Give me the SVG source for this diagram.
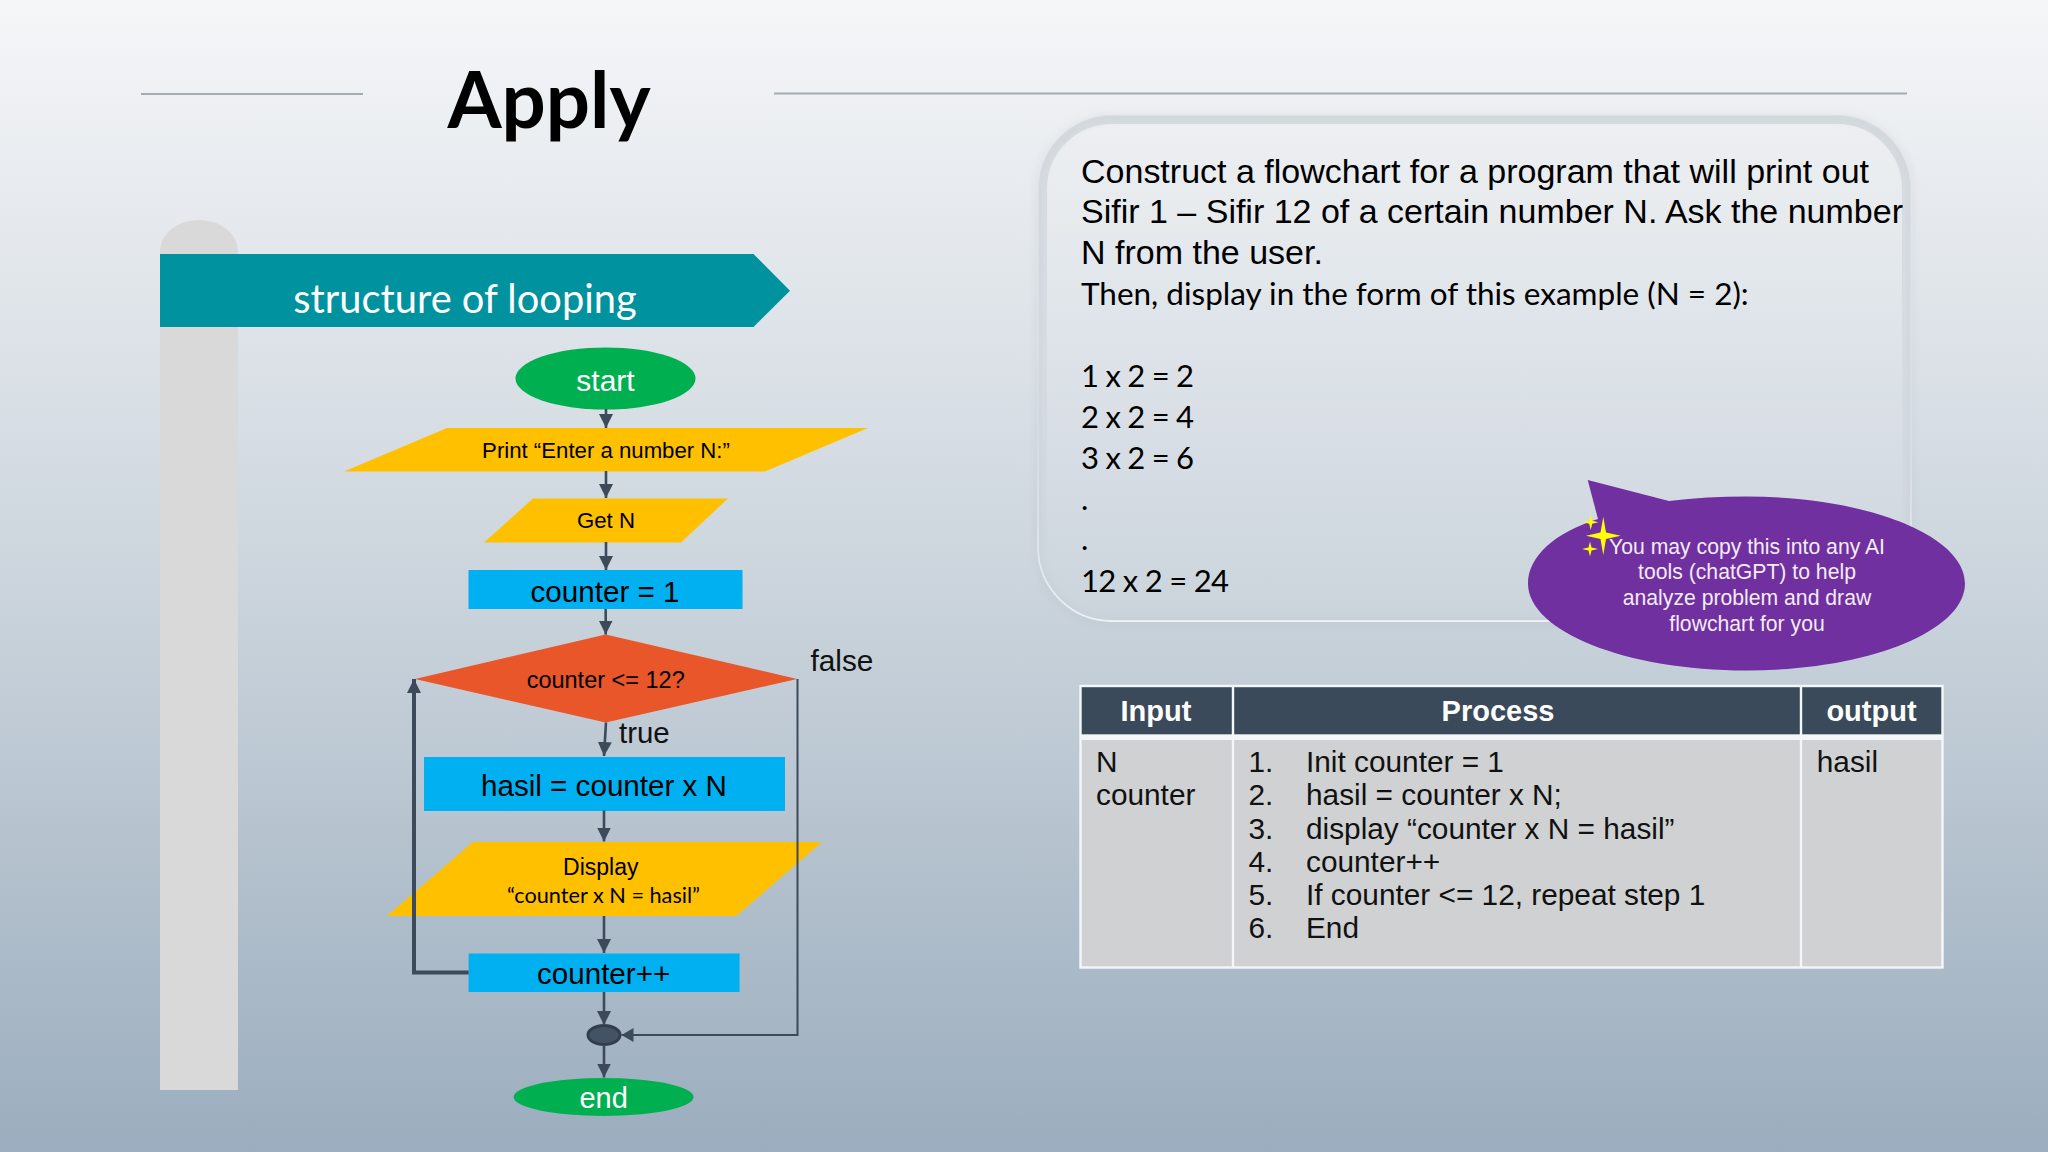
<svg xmlns="http://www.w3.org/2000/svg" width="2048" height="1152" viewBox="0 0 2048 1152">
<defs>
<linearGradient id="bg" x1="0" y1="0" x2="0" y2="1"><stop offset="0" stop-color="#f5f6f8"/><stop offset="0.5" stop-color="#ccd5dd"/><stop offset="1" stop-color="#9badbe"/></linearGradient>
<linearGradient id="bev" x1="0" y1="0" x2="0" y2="1"><stop offset="0" stop-color="#b4bcc4" stop-opacity="0.4"/><stop offset="0.5" stop-color="#b4bcc4" stop-opacity="0.16"/><stop offset="0.9" stop-color="#b4bcc4" stop-opacity="0"/></linearGradient>
<linearGradient id="rim" x1="0" y1="0" x2="0" y2="1"><stop offset="0" stop-color="#e6e9ec" stop-opacity="0.45"/><stop offset="0.6" stop-color="#e6e9ec" stop-opacity="0.3"/><stop offset="0.9" stop-color="#f4f7f9" stop-opacity="0.6"/><stop offset="1" stop-color="#f4f7f9" stop-opacity="0.85"/></linearGradient>
<filter id="soft" x="-5%" y="-5%" width="110%" height="110%"><feGaussianBlur stdDeviation="4"/></filter>
<clipPath id="panelClip"><rect x="1038" y="115" width="873" height="506" rx="74"/></clipPath>
<marker id="ah" markerUnits="userSpaceOnUse" markerWidth="14" markerHeight="14" refX="14" refY="7" orient="auto"><path d="M0 0L14 7L0 14Z" fill="#3d4a5a"/></marker>
<marker id="ahl" markerUnits="userSpaceOnUse" markerWidth="13" markerHeight="14" refX="12" refY="7" orient="auto"><path d="M0 0L12 7L0 14Z" fill="#3d4a5a"/></marker>
<style>
text{font-family:"Liberation Sans",Arial,sans-serif;fill:#000}
.cal{font-family:Lato,"Carlito",sans-serif}
.c{text-anchor:middle}
.w{fill:#fff}
.f30{font-size:29.6px}
.io{fill:#ffc000}
.pr{fill:#00b0f0}
.te{fill:#00b050}
.cn{fill:none;stroke:#3d4a5a;stroke-width:2.6}
.st{font-size:34px}
.stc{font-size:31.5px}
.num{font-size:31px}
.bub{font-size:21.2px;fill:#f3ecf7;text-anchor:middle}
.hd{font-size:29px;font-weight:bold;fill:#fff;text-anchor:middle}
.tb{font-size:29.8px;fill:#111}
.gl{stroke:#f4f7fa;stroke-width:2.4;fill:none}
.star{fill:#ffff00}
</style>
</defs>
<rect width="2048" height="1152" fill="url(#bg)"/>
<g id="title">
<line x1="141" y1="94" x2="363" y2="94" stroke="#a3abb3" stroke-width="2"/>
<line x1="774" y1="93.6" x2="1907" y2="93.6" stroke="#a3abb3" stroke-width="2"/>
<text class="cal c" x="549" y="127.5" font-size="78" font-weight="700" style="fill:#000">Apply</text>
</g>
<path id="pillar" d="M160 1090V252C160 234 177 220 199 220C221 220 238 234 238 252V1090Z" fill="#d9d9d9"/>
<g id="banner">
<path d="M160 254H753.5L790 290.7L753.5 327H160Z" fill="#00929f"/>
<text class="cal c w" x="465" y="313" font-size="39.800">structure of looping</text>
</g>
<g id="panel">
<rect x="1038" y="117" width="873" height="506" rx="74" fill="none" stroke="#8e9aa6" stroke-width="4" opacity="0.2" filter="url(#soft)"/>
<rect x="1038" y="115" width="873" height="506" rx="74" fill="#ffffff" fill-opacity="0.05"/>
<rect x="1038" y="115" width="873" height="506" rx="74" fill="none" stroke="url(#bev)" stroke-width="18" clip-path="url(#panelClip)"/>
<rect x="1038" y="115" width="873" height="506" rx="74" fill="none" stroke="url(#rim)" stroke-width="1.800"/>
<text class="st" x="1081" y="182.500" textLength="788">Construct a flowchart for a program that will print out</text>
<text class="st" x="1081" y="223" textLength="822">Sifir 1 – Sifir 12 of a certain number N. Ask the number</text>
<text class="st" x="1081" y="264">N from the user.</text>
<text class="cal stc" x="1081" y="305">Then, display in the form of this example (N = 2):</text>
<text class="cal num" x="1081" y="387" textLength="113">1 x 2 = 2</text>
<text class="cal num" x="1081" y="428" textLength="113">2 x 2 = 4</text>
<text class="cal num" x="1081" y="468.500" textLength="113">3 x 2 = 6</text>
<text class="cal num" x="1081" y="509.500">.</text>
<text class="cal num" x="1081" y="550">.</text>
<text class="cal num" x="1081" y="592" textLength="148">12 x 2 = 24</text>
</g>
<g id="n-start"><ellipse class="te" cx="605.500" cy="378.500" rx="90" ry="31"/><text class="c w" x="605.5" y="390.500" font-size="30">start</text></g>
<g id="n-print"><polygon class="io" points="447,428 868,428 765,471.500 344,471.500"/><text class="c" x="606" y="457.500" font-size="22.200">Print “Enter a number N:”</text></g>
<g id="n-get"><polygon class="io" points="533,498.500 728,498.500 681,542.500 484,542.500"/><text class="c" x="606" y="528.200" font-size="22.200">Get N</text></g>
<g id="n-init"><rect class="pr" x="468.500" y="570" width="274" height="39"/><text class="c f30" x="605" y="602">counter = 1</text></g>
<g id="n-cond"><polygon points="605.7,634.5 797,679 605.7,722.5 415,679" fill="#e8562a"/><text class="c" x="605.7" y="688" font-size="23.5">counter &lt;= 12?</text></g>
<g id="n-calc"><rect class="pr" x="424" y="757" width="361" height="54"/><text class="c f30" x="604" y="796">hasil = counter x N</text></g>
<g id="n-display"><polygon class="io" points="473,842 822,842 736.4,916 387,916"/><text class="c" x="600.8" y="874.6" font-size="23">Display</text><text class="cal c" x="603.5" y="903" font-size="21.700">“counter x N = hasil”</text></g>
<g id="n-incr"><rect class="pr" x="468.6" y="953.5" width="271" height="38.5"/><text class="c f30" x="603.6" y="983.8">counter++</text></g>
<g id="n-junction"><ellipse cx="604" cy="1035" rx="16" ry="9.5" fill="#445364" stroke="#323e4c" stroke-width="3"/></g>
<g id="n-end"><ellipse class="te" cx="603.6" cy="1097" rx="90" ry="19"/><text class="c w" x="603.6" y="1108" font-size="29">end</text></g>
<g id="connectors">
<line class="cn" x1="606" y1="409" x2="606" y2="428" marker-end="url(#ah)"/>
<line class="cn" x1="606" y1="471" x2="606" y2="498" marker-end="url(#ah)"/>
<line class="cn" x1="606" y1="542" x2="606" y2="570" marker-end="url(#ah)"/>
<line class="cn" x1="605.7" y1="609" x2="605.7" y2="634.5" marker-end="url(#ah)"/>
<line class="cn" x1="606" y1="722.5" x2="604" y2="756" marker-end="url(#ah)"/>
<line class="cn" x1="604" y1="810.6" x2="604" y2="841.5" marker-end="url(#ah)"/>
<line class="cn" x1="604" y1="916" x2="604" y2="953" marker-end="url(#ah)"/>
<line class="cn" x1="604" y1="992" x2="604" y2="1025" marker-end="url(#ah)"/>
<line class="cn" x1="604" y1="1045" x2="604" y2="1077.5" marker-end="url(#ah)"/>
<path class="cn" d="M468.6 972.5H414V679" style="stroke-width:4" marker-end="url(#ah)"/>
<path class="cn" d="M797.500 679V1035H621.5" style="stroke-width:2" marker-end="url(#ahl)"/>
</g>
<text id="lbl-false" x="810.500" y="670.500" font-size="29.8" style="fill:#111">false</text>
<text id="lbl-true" x="619" y="742.6" font-size="29.400" style="fill:#111">true</text>
<g id="callout">
<path d="M1587.7 480L1669 501C1695 498 1720 496.6 1746.5 496.6C1867 496.6 1965 535.5 1965 583.5C1965 631.5 1867 670.5 1746.5 670.5C1626 670.5 1528 631.5 1528 583.5C1528 556 1556 532 1598 519Z" fill="#7030a0"/>
<polygon class="star" points="1603.300,516.700 1606,532.500 1620.700,535.700 1606,539 1603.300,555 1600.500,539 1586,535.700 1600.500,532.500"/>
<polygon class="star" points="1590.700,514.500 1592.200,520.800 1598.500,522.300 1592.200,523.800 1590.700,530 1589.200,523.800 1583,522.300 1589.200,520.800"/>
<polygon class="star" points="1590,541.500 1591.500,547.500 1598,549 1591.500,550.500 1590,556.500 1588.500,550.500 1582,549 1588.500,547.500"/>
<text class="bub" x="1747" y="553.500">You may copy this into any AI</text>
<text class="bub" x="1747" y="579">tools (chatGPT) to help</text>
<text class="bub" x="1747" y="605">analyze problem and draw</text>
<text class="bub" x="1747" y="630.500">flowchart for you</text>
</g>
<g id="table">
<rect x="1080.500" y="686" width="862" height="48.500" fill="#3b4a5a"/>
<rect x="1080.500" y="740" width="862" height="227.500" fill="#cfd1d3"/>
<rect x="1080.500" y="734.500" width="862" height="5.500" fill="#f4f7fa"/>
<rect class="gl" x="1080.500" y="686" width="862" height="281.500"/>
<line class="gl" x1="1233" y1="686" x2="1233" y2="967.500"/>
<line class="gl" x1="1801" y1="686" x2="1801" y2="967.500"/>
<text class="hd" x="1156" y="720.500">Input</text>
<text class="hd" x="1498" y="720.500">Process</text>
<text class="hd" x="1871.500" y="720.500">output</text>
<text class="tb" x="1096" y="771.700">N</text>
<text class="tb" x="1096" y="805">counter</text>
<text class="tb" x="1248.500" y="771.700">1.</text><text class="tb" x="1306" y="771.700">Init counter = 1</text>
<text class="tb" x="1248.500" y="805">2.</text><text class="tb" x="1306" y="805">hasil = counter x N;</text>
<text class="tb" x="1248.500" y="838.500">3.</text><text class="tb" x="1306" y="838.500">display “counter x N = hasil”</text>
<text class="tb" x="1248.500" y="872">4.</text><text class="tb" x="1306" y="872">counter++</text>
<text class="tb" x="1248.500" y="905.200">5.</text><text class="tb" x="1306" y="905.200">If counter &lt;= 12, repeat step 1</text>
<text class="tb" x="1248.500" y="938.300">6.</text><text class="tb" x="1306" y="938.300">End</text>
<text class="tb" x="1816.800" y="771.700">hasil</text>
</g>
</svg>
